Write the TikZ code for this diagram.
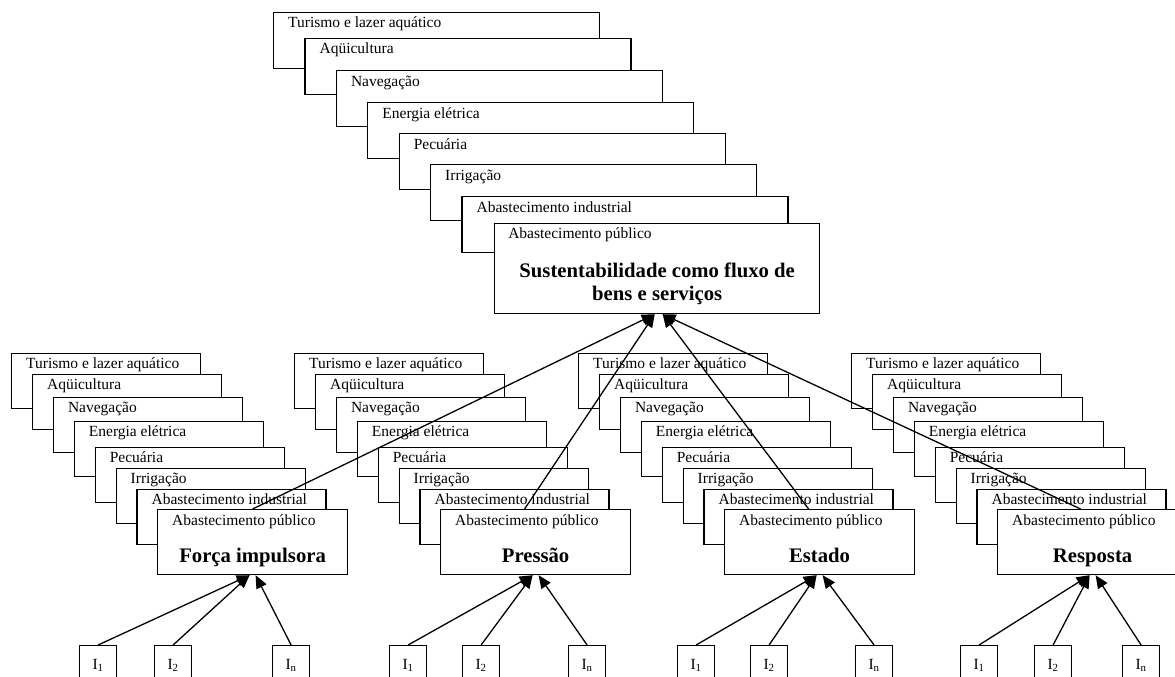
\documentclass[tikz,border=0pt]{standalone}
\usepackage{fontspec}
\setmainfont{Liberation Serif}
\usetikzlibrary{arrows.meta,calc}

\begin{document}
\begin{tikzpicture}[x=1pt, y=-1pt,
    card/.style={draw, fill=white, line width=1.2pt, anchor=north west, inner sep=0pt, minimum width=189pt, minimum height=55pt},
    bigcard/.style={card, minimum width=326pt, minimum height=56pt},
    front/.style={card, minimum width=190pt, minimum height=65pt},
    txt/.style={anchor=base west, inner sep=0pt, font=\fontsize{15.5}{18}\selectfont},
    title/.style={anchor=base, inner sep=0pt, align=center, font=\fontsize{20.7}{23}\selectfont\bfseries},
    ind/.style={draw, line width=1.2pt, anchor=north west, inner sep=0pt, minimum width=37pt, minimum height=40pt, font=\fontsize{15.5}{18}\selectfont},
    arr/.style={-{Triangle[length=13pt, width=11pt]}, line width=1.3pt}
    ]
    \path[use as bounding box, clip] (0,0) rectangle (1175,677);

    % usos da agua, quadro de cima
    \foreach \k/\y/\lbl in {0/12/Turismo e lazer aquático, 1/38/Aqüicultura, 2/70/Navegação, 3/102/Energia elétrica, 4/133/Pecuária, 5/164/Irrigação, 6/196/Abastecimento industrial} {
      \node[bigcard] (sust-b\k) at (273+31.4*\k, \y) {};
      \node[txt] at ($(sust-b\k.north west)+(15,16)$) {\lbl};
    }
    \node[card, minimum width=325pt, minimum height=90pt] (sust) at (493.6,223) {};
    \node[txt] at ($(sust.north west)+(14.5,15)$) {Abastecimento público};
    \node[title] at ($(sust.north)+(0.5,77)$) {Sustentabilidade como fluxo de\\bens e serviços};

    % quadros de baixo
    \foreach \gx/\grp/\ttl in {0/fi/Força impulsora, 283/pr/Pressão, 567/es/Estado, 840/re/Resposta} {
      \foreach \k/\y/\lbl in {0/353/Turismo e lazer aquático, 1/374/Aqüicultura, 2/397/Navegação, 3/421/Energia elétrica, 4/447/Pecuária, 5/468/Irrigação, 6/489/Abastecimento industrial} {
        \node[card] (\grp-b\k) at (\gx+11+20.9*\k, \y) {};
        \node[txt] at ($(\grp-b\k.north west)+(15,15.5)$) {\lbl};
      }
      \node[front] (\grp) at (\gx+157, 509) {};
      \node[txt] at ($(\grp.north west)+(15,16)$) {Abastecimento público};
      \node[title] at ($(\grp.north)+(0,53)$) {\ttl};
    }

    % indicadores
    \node[ind] (fi-i1) at (79,645) {I\textsubscript{1}};
    \node[ind] (fi-i2) at (154,645) {I\textsubscript{2}};
    \node[ind] (fi-in) at (272,645) {I\textsubscript{n}};
    \node[ind] (pr-i1) at (389,645) {I\textsubscript{1}};
    \node[ind] (pr-i2) at (462,645) {I\textsubscript{2}};
    \node[ind] (pr-in) at (568,645) {I\textsubscript{n}};
    \node[ind] (es-i1) at (677,645) {I\textsubscript{1}};
    \node[ind] (es-i2) at (750,645) {I\textsubscript{2}};
    \node[ind] (es-in) at (855,645) {I\textsubscript{n}};
    \node[ind] (re-i1) at (960,645) {I\textsubscript{1}};
    \node[ind] (re-i2) at (1034,645) {I\textsubscript{2}};
    \node[ind] (re-in) at (1122,645) {I\textsubscript{n}};

    \foreach \grp in {fi,pr,es,re} {
      \draw[arr] (\grp-i1.north) -- ([xshift=-3pt]\grp.south);
      \draw[arr] (\grp-i2.north) -- ([xshift=-3pt]\grp.south);
      \draw[arr] (\grp-in.north) -- ([xshift=3pt]\grp.south);
    }

    \draw[arr] (fi.north) -- ([xshift=-2pt]sust.south);
    \draw[arr] ([xshift=-11pt]pr.north) -- ([xshift=-2pt]sust.south);
    \draw[arr] ([xshift=-11pt]es.north) -- ([xshift=6pt]sust.south);
    \draw[arr] ([xshift=-12pt]re.north) -- ([xshift=6pt]sust.south);
\end{tikzpicture}
\end{document}
